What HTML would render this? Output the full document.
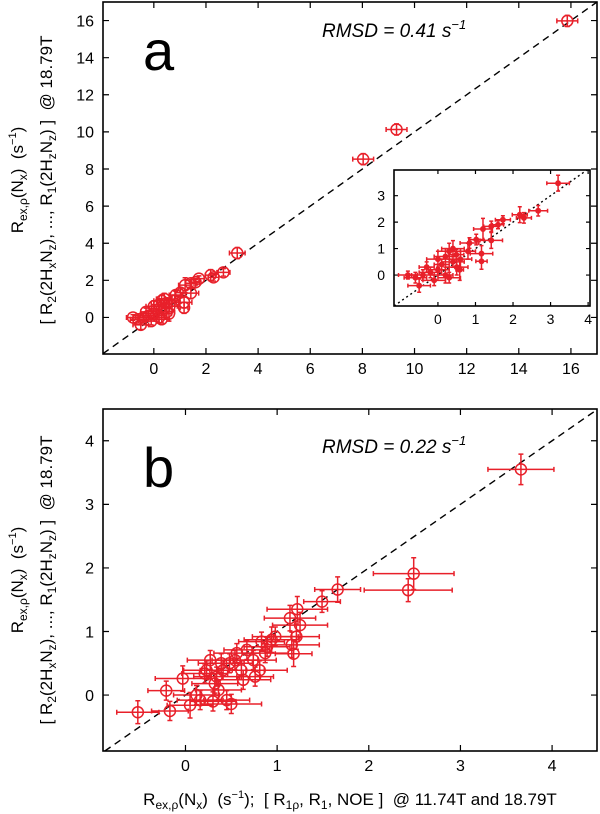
<!DOCTYPE html>
<html><head><meta charset="utf-8"><style>
html,body{margin:0;padding:0;background:#fff;overflow:hidden;width:600px;height:814px;}
svg{display:block;position:absolute;left:0;top:0;font-family:"Liberation Sans",sans-serif;}
</style></head><body>
<svg id="chart" width="600" height="814" viewBox="0 0 600 814" xmlns="http://www.w3.org/2000/svg">
<g id="pa"></g>
<g id="pb"></g>
<g id="labels">
<text transform="translate(23,180) rotate(-90)" text-anchor="middle" font-size="17">R<tspan font-size="12" dy="4">ex,ρ</tspan><tspan dy="-4">(N</tspan><tspan font-size="12" dy="4">x</tspan><tspan dy="-4">) &#160;(s</tspan><tspan font-size="11" dy="-7">−1</tspan><tspan dy="7">)</tspan></text>
<text transform="translate(52,180) rotate(-90)" text-anchor="middle" font-size="17">[ R<tspan font-size="12" dy="4">2</tspan><tspan dy="-4">(2H</tspan><tspan font-size="12" dy="4">x</tspan><tspan dy="-4">N</tspan><tspan font-size="12" dy="4">z</tspan><tspan dy="-4">), ..., R</tspan><tspan font-size="12" dy="4">1</tspan><tspan dy="-4">(2H</tspan><tspan font-size="12" dy="4">z</tspan><tspan dy="-4">N</tspan><tspan font-size="12" dy="4">z</tspan><tspan dy="-4">) ] &#160;@ 18.79T</tspan></text>
<text transform="translate(23,580) rotate(-90)" text-anchor="middle" font-size="17">R<tspan font-size="12" dy="4">ex,ρ</tspan><tspan dy="-4">(N</tspan><tspan font-size="12" dy="4">x</tspan><tspan dy="-4">) &#160;(s</tspan><tspan font-size="11" dy="-7">−1</tspan><tspan dy="7">)</tspan></text>
<text transform="translate(52,580) rotate(-90)" text-anchor="middle" font-size="17">[ R<tspan font-size="12" dy="4">2</tspan><tspan dy="-4">(2H</tspan><tspan font-size="12" dy="4">x</tspan><tspan dy="-4">N</tspan><tspan font-size="12" dy="4">z</tspan><tspan dy="-4">), ..., R</tspan><tspan font-size="12" dy="4">1</tspan><tspan dy="-4">(2H</tspan><tspan font-size="12" dy="4">z</tspan><tspan dy="-4">N</tspan><tspan font-size="12" dy="4">z</tspan><tspan dy="-4">) ] &#160;@ 18.79T</tspan></text>
<text x="350" y="805" text-anchor="middle" font-size="17">R<tspan font-size="12" dy="4">ex,ρ</tspan><tspan dy="-4">(N</tspan><tspan font-size="12" dy="4">x</tspan><tspan dy="-4">) &#160;(s</tspan><tspan font-size="11" dy="-7">−1</tspan><tspan dy="7">); &#160;[ R</tspan><tspan font-size="12" dy="4">1ρ</tspan><tspan dy="-4">, R</tspan><tspan font-size="12" dy="4">1</tspan><tspan dy="-4">, NOE ] &#160;@ 11.74T and 18.79T</tspan></text>
</g>
</svg>
<script>
// Panel a data
const aX  = [3.2,2.67,2.29,2.18,1.73,1.6,1.42,1.2,1.42,1.16,1.16,1.02,0.84,0.58,0.49,0.3,0.2,0.4,0.1,0.0,-0.2,-0.4,-0.6,-0.8,-0.5,0.2,0.5,0.3,-0.1,0.6,0.8,0.0,-0.3,0.4,8.03,9.31,15.86];
const aY  = [3.47,2.43,2.16,2.28,2.09,1.9,1.84,1.74,1.31,0.81,0.52,1.34,1.21,0.2,0.77,0.9,0.7,0.5,0.4,0.2,0.1,0.0,-0.1,0.0,-0.4,0.0,0.3,-0.1,-0.2,0.6,0.9,0.6,0.3,1.0,8.53,10.13,15.98];
const aEX = [0.3,0.25,0.2,0.2,0.2,0.15,0.2,0.25,0.3,0.3,0.15,0.2,0.25,0.1,0.2,0.3,0.3,0.3,0.2,0.3,0.3,0.3,0.3,0.25,0.3,0.2,0.3,0.3,0.3,0.3,0.2,0.3,0.2,0.3,0.4,0.4,0.4];
const aEY = [0.3,0.2,0.2,0.3,0.15,0.15,0.2,0.4,0.3,0.3,0.3,0.2,0.2,0.4,0.2,0.3,0.3,0.2,0.2,0.2,0.2,0.2,0.2,0.15,0.25,0.3,0.3,0.2,0.2,0.3,0.3,0.3,0.2,0.3,0.3,0.3,0.3];
const aTicks = [0,2,4,6,8,10,12,14,16];
const insetTicksX = [0,1,2,3,4];
const insetTicksY = [0,1,2,3];
// Panel b data
const bX  = [3.66,2.49,2.43,1.66,1.49,1.22,1.14,1.25,1.21,1.16,1.18,0.94,0.83,0.87,0.74,0.81,0.76,0.63,0.67,0.56,0.48,0.41,0.34,0.23,0.21,-0.03,-0.21,0.32,0.36,0.16,0.30,0.45,0.50,0.05,-0.17,-0.52,0.12,0.27,0.39,0.54,0.61,0.89,0.98];
const bY  = [3.55,1.91,1.65,1.66,1.47,1.35,1.21,1.10,0.92,0.79,0.65,0.87,0.84,0.66,0.55,0.39,0.29,0.24,0.71,0.66,0.50,0.39,0.29,0.39,0.34,0.26,0.07,0.18,0.08,-0.08,-0.10,-0.08,-0.14,-0.16,-0.25,-0.27,0.0,0.55,0.50,0.55,0.39,0.76,0.92];
const bEX = [0.36,0.44,0.48,0.25,0.2,0.33,0.28,0.3,0.25,0.3,0.2,0.3,0.25,0.25,0.25,0.3,0.2,0.3,0.25,0.25,0.25,0.25,0.25,0.25,0.25,0.3,0.2,0.25,0.25,0.25,0.25,0.25,0.33,0.25,0.2,0.23,0.25,0.25,0.25,0.25,0.25,0.25,0.25];
const bEY = [0.24,0.25,0.18,0.2,0.17,0.2,0.2,0.2,0.2,0.2,0.2,0.2,0.15,0.15,0.15,0.15,0.15,0.15,0.15,0.15,0.15,0.15,0.15,0.15,0.15,0.2,0.15,0.15,0.15,0.15,0.15,0.15,0.15,0.2,0.15,0.18,0.15,0.15,0.15,0.15,0.15,0.15,0.15];
const bTicks = [0,1,2,3,4];

const NS="http://www.w3.org/2000/svg";
function mk(parent,tag,attrs){const e=document.createElementNS(NS,tag);for(const k in attrs)e.setAttribute(k,attrs[k]);parent.appendChild(e);return e;}
function scale(d0,d1,p0,p1){const f=v=>p0+(v-d0)/(d1-d0)*(p1-p0);f.d0=d0;f.d1=d1;return f;}

function drawFrame(g,L,T,R,B,sx,sy,ticksX,ticksY,lblX,lblY,fs,tl,dash,name){
  const lo=Math.max(sx.d0,sy.d0), hi=Math.min(sx.d1,sy.d1);
  const diag=mk(g,'line',{x1:sx(lo),y1:sy(lo),x2:sx(hi),y2:sy(hi),stroke:'#000','stroke-width':1.4,'stroke-dasharray':dash});
  
  
  for(const t of ticksX){
    const x=sx(t);
    const tk=mk(g,'path',{d:`M${x},${B}v${-tl}M${x},${T}v${tl}`,stroke:'#000','stroke-width':1.2});
    
    
  }
  for(const t of ticksY){
    const y=sy(t);
    const tk=mk(g,'path',{d:`M${L},${y}h${tl}M${R},${y}h${-tl}`,stroke:'#000','stroke-width':1.2});
    
    
  }
  for(const t of lblX){
    const tx=mk(g,'text',{x:sx(t),y:B+fs+4,'text-anchor':'middle','font-size':fs});
    tx.textContent=t;
    
    
  }
  for(const t of lblY){
    const tx=mk(g,'text',{x:L-9,y:sy(t)+fs*0.36,'text-anchor':'end','font-size':fs});
    tx.textContent=t;
    
    
  }
  const fr=mk(g,'rect',{x:L,y:T,width:R-L,height:B-T,fill:'none',stroke:'#000','stroke-width':1.6});
  
  
}
function drawPoints(g,xs,ys,exs,eys,sx,sy,r,filled,cap,name){
  const col='#e8202a';
  for(let i=0;i<xs.length;i++){
    const pg=mk(g,'g',{});
    
    
    const x=sx(xs[i]),y=sy(ys[i]);
    const x0=sx(xs[i]-exs[i]),x1=sx(xs[i]+exs[i]),y0=sy(ys[i]-eys[i]),y1=sy(ys[i]+eys[i]);
    mk(pg,'path',{d:`M${x0},${y}H${x1}M${x},${y0}V${y1}M${x0},${y-cap}v${2*cap}M${x1},${y-cap}v${2*cap}M${x-cap},${y0}h${2*cap}M${x-cap},${y1}h${2*cap}`,stroke:col,'stroke-width':1.5,fill:'none'});
    mk(pg,'circle',{cx:x,cy:y,r:r,fill:filled?col:'none',stroke:col,'stroke-width':1.5});
  }
}

// Panel a
const ga=document.getElementById('pa');
const axA=scale(-1.95,17,103,597), ayA=scale(-1.97,17,354,2);
drawFrame(ga,103,2,597,354,axA,ayA,aTicks,aTicks,aTicks,aTicks,16,6,'7,5','panel-a');
drawPoints(ga,aX,aY,aEX,aEY,axA,ayA,5.5,false,2.5,'panel-a');
const la=mk(ga,'text',{x:143,y:70,'font-size':56});la.textContent='a';


const ra=mk(ga,'text',{x:322,y:37,'font-size':19,'font-style':'italic'});
ra.innerHTML='RMSD = 0.41 s<tspan font-size="13" dy="-8">−1</tspan>';


// inset
const gi=mk(ga,'g',{});


mk(gi,'rect',{x:394,y:170,width:196,height:136,fill:'#fff'});
const ixA=scale(-1.17,4.05,394,590), iyA=scale(-1.17,3.97,306,170);
const iX=[],iY=[],iEX=[],iEY=[];
for(let i=0;i<aX.length;i++){if(aX[i]<4){iX.push(aX[i]);iY.push(aY[i]);iEX.push(aEX[i]);iEY.push(aEY[i]);}}
drawFrame(gi,394,170,590,306,ixA,iyA,insetTicksX,insetTicksY,insetTicksX,insetTicksY,14,4,'2,3','inset');
drawPoints(gi,iX,iY,iEX,iEY,ixA,iyA,2.2,true,2,'inset');

// Panel b
const gb=document.getElementById('pb');
const axB=scale(-0.9,4.49,103,597), ayB=scale(-0.88,4.5,751,409);
drawFrame(gb,103,409,597,751,axB,ayB,bTicks,bTicks,bTicks,bTicks,16,6,'7,5','panel-b');
drawPoints(gb,bX,bY,bEX,bEY,axB,ayB,5.5,false,2.5,'panel-b');
const lb=mk(gb,'text',{x:143,y:487,'font-size':56});lb.textContent='b';


const rb=mk(gb,'text',{x:322,y:453,'font-size':19,'font-style':'italic'});
rb.innerHTML='RMSD = 0.22 s<tspan font-size="13" dy="-8">−1</tspan>';


</script>
</body></html>
